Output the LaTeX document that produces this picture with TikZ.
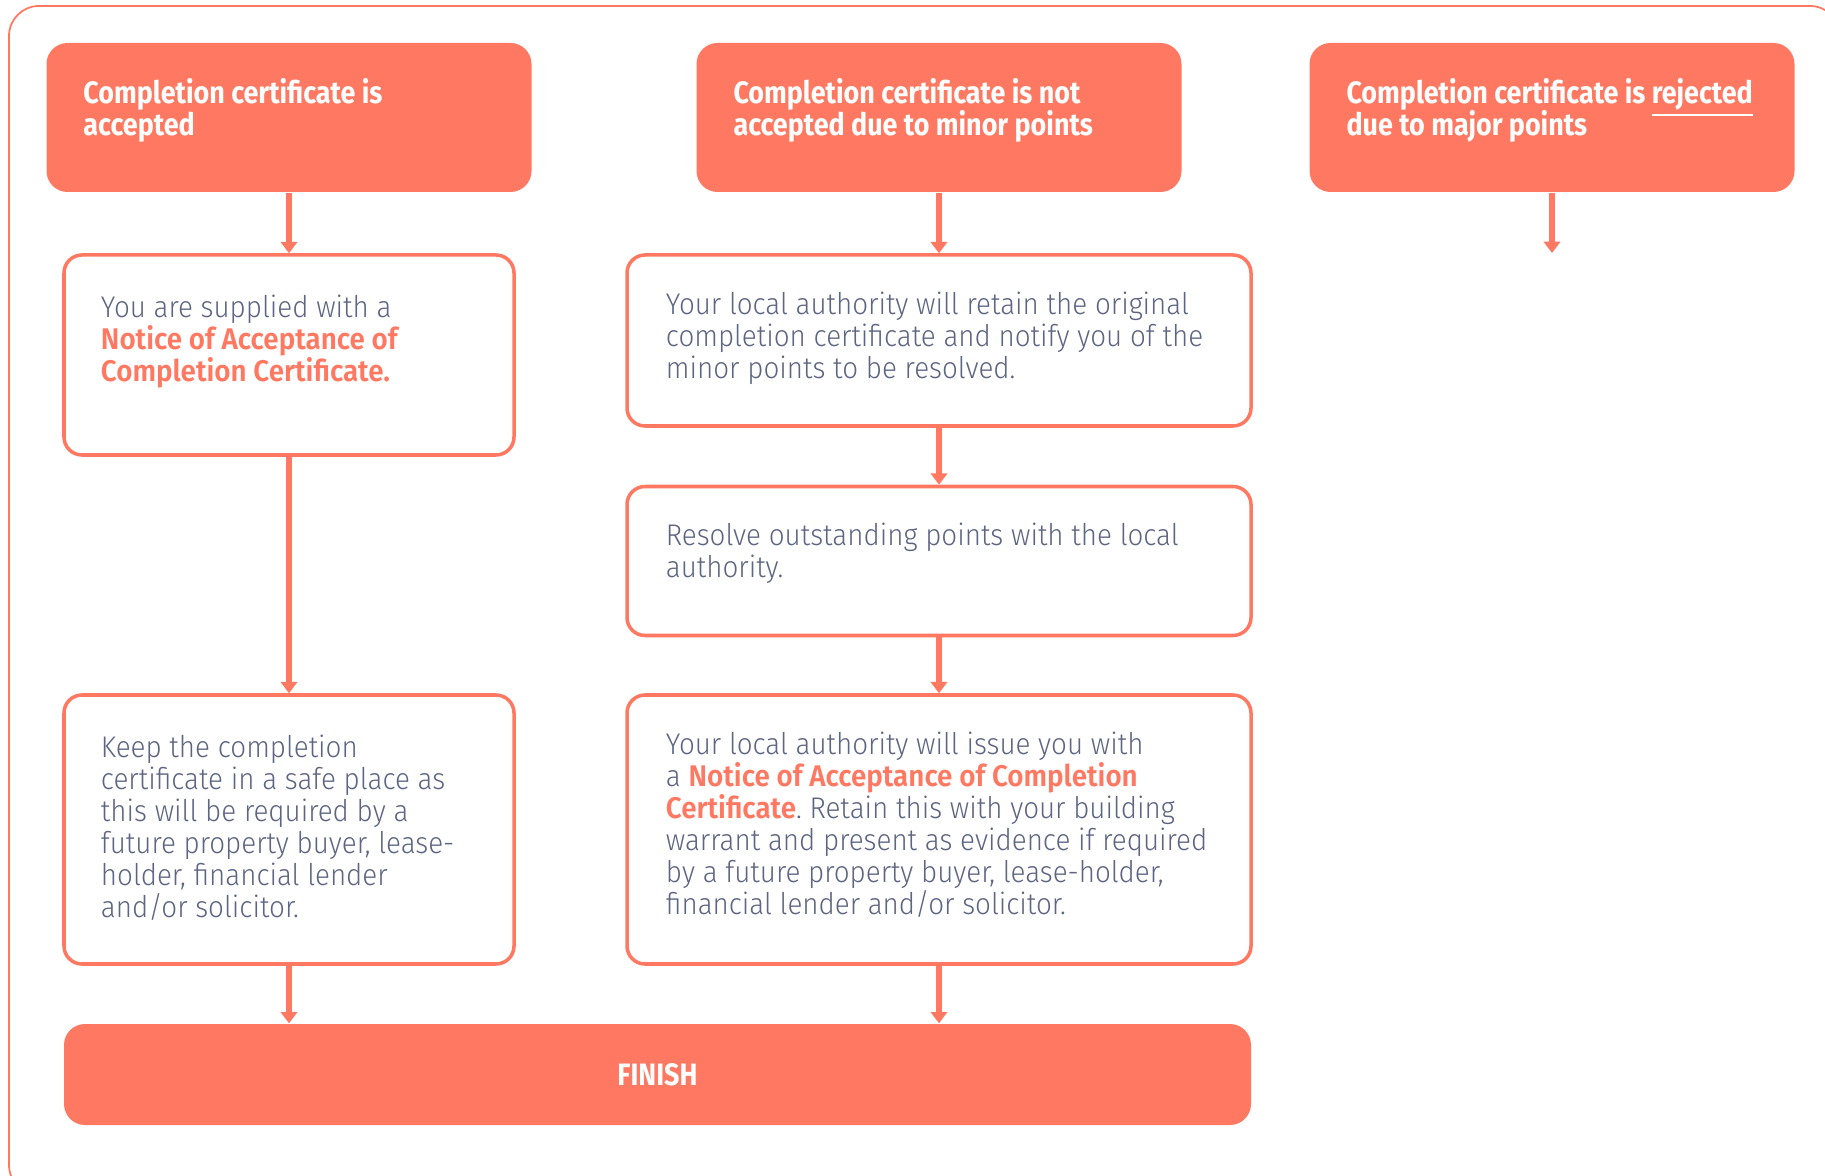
\documentclass[tikz,border=0pt]{standalone}
\usepackage{fontspec}
\setmainfont{Fira Sans}[UprightFont=* Light, BoldFont=* SemiBold, FakeStretch=0.93]
\newfontfamily\headfont{Fira Sans}[UprightFont=* Bold, FakeStretch=0.87]
\usetikzlibrary{arrows.meta}
\definecolor{coral}{HTML}{FF7962}
\definecolor{slate}{HTML}{5D6582}
\newcommand{\hl}[1]{\textbf{\color{coral}#1}}
\frenchspacing

\begin{document}
\begin{tikzpicture}[
    headbox/.style={fill=coral, rounded corners=0.21cm, minimum width=4.85cm, minimum height=1.49cm, inner sep=0pt},
    stepbox/.style={draw=coral, line width=1pt, fill=white, rounded corners=0.18cm, inner sep=0pt},
    headtext/.style={anchor=north west, inner sep=0pt, align=left, text=white, font=\headfont\fontsize{8.8}{9.2}\selectfont},
    bodytext/.style={anchor=north west, inner sep=0pt, align=left, text=slate, font=\fontsize{8.5}{9.1}\selectfont},
    flow/.style={draw=coral, line width=1.8pt, -{Triangle[width=4.6pt,length=3.2pt]}}
  ]
  \useasboundingbox (0,0) rectangle (18.25,-11.76);
  \draw[coral, line width=0.5pt, rounded corners=0.3cm] (0.09,-0.06) rectangle (18.4,-11.95);

  \node[headbox] (acc) at (2.89,-1.175) {};
  \node[headbox] (minor) at (9.39,-1.175) {};
  \node[headbox] (major) at (15.52,-1.175) {};
  \node[headtext] (acct) at ([shift={(0.37,-0.35)}]acc.north west) {Completion certificate is\\accepted};
  \node[headtext] (minort) at ([shift={(0.37,-0.35)}]minor.north west) {Completion certificate is not\\accepted due to minor points};
  \node[headtext] (majort) at ([shift={(0.37,-0.35)}]major.north west) {Completion certificate is \smash{\underline{rejected}}\\due to major points};

  \node[stepbox, minimum width=4.50cm, minimum height=2.00cm] (notice) at (2.89,-3.55) {};
  \node[stepbox, minimum width=4.50cm, minimum height=2.69cm] (keep) at (2.89,-8.295) {};
  \node[stepbox, minimum width=6.24cm, minimum height=1.71cm] (retain) at (9.39,-3.405) {};
  \node[stepbox, minimum width=6.24cm, minimum height=1.49cm] (resolve) at (9.39,-5.61) {};
  \node[stepbox, minimum width=6.24cm, minimum height=2.69cm] (issue) at (9.39,-8.295) {};

  \node[bodytext] (noticet) at ([shift={(0.38,-0.41)}]notice.north west) {You are supplied with a\\\hl{Notice of Acceptance of}\\\hl{Completion Certificate.}};
  \node[bodytext] (keept) at ([shift={(0.38,-0.41)}]keep.north west) {Keep the completion\\certificate in a safe place as\\this will be required by a\\future property buyer, lease-\\holder, financial lender\\and/or solicitor.};
  \node[bodytext] (retaint) at ([shift={(0.40,-0.38)}]retain.north west) {Your local authority will retain the original\\completion certificate and notify you of the\\minor points to be resolved.};
  \node[bodytext] (resolvet) at ([shift={(0.40,-0.38)}]resolve.north west) {Resolve outstanding points with the local\\authority.};
  \node[bodytext] (issuet) at ([shift={(0.40,-0.38)}]issue.north west) {Your local authority will issue you with\\a \hl{Notice of Acceptance of Completion}\\\hl{Certificate}. Retain this with your building\\warrant and present as evidence if required\\by a future property buyer, lease-holder,\\financial lender and/or solicitor.};

  \node[fill=coral, rounded corners=0.21cm, minimum width=11.87cm, minimum height=1.01cm, text=white, font=\headfont\fontsize{8.8}{9.2}\selectfont] (finish) at (6.575,-10.745) {FINISH};

  \coordinate (majorend) at (15.52,-2.53);

  \draw[flow] (acc) -- (notice);
  \draw[flow] (notice) -- (keep);
  \draw[flow] (keep.south) -- (keep.south |- finish.north);
  \draw[flow] (minor) -- (retain);
  \draw[flow] (retain) -- (resolve);
  \draw[flow] (resolve) -- (issue);
  \draw[flow] (issue.south) -- (issue.south |- finish.north);
  \draw[flow] (major) -- (majorend);
\end{tikzpicture}
\end{document}
